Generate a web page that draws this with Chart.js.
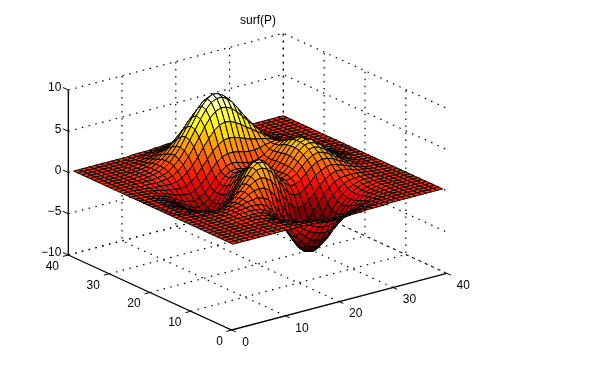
<!DOCTYPE html>
<html>
<head>
<meta charset="utf-8">
<title>surf(P)</title>
<script src="https://cdn.jsdelivr.net/npm/chart.js@4"></script>
<style>
html,body{margin:0;padding:0;background:#fff}
canvas{display:block}
</style>
</head>
<body>
<canvas id="surfChart" width="592" height="379"></canvas>
<script>
/* ============================= */
/* DATA */
/* ============================= */

const gridX = [1,2,3,4,5,6,7,8,9,10,11,12,13,14,15,16,17,18,19,20,21,22,23,24,25,26,27,28,29,30,31,32,33,34,35,36,37,38,39,40]
const gridY = [1,2,3,4,5,6,7,8,9,10,11,12,13,14,15,16,17,18,19,20,21,22,23,24,25,26,27,28,29,30,31,32,33,34,35,36,37,38,39,40]

// surface height, one row per gridY value, one column per gridX value
const zValues = [
[0,0,0,0,0,0,0,0,0,0,0,0,0,0,-.1,-.1,-.1,-.2,-.2,-.2,-.2,-.3,-.2,-.2,-.2,-.1,-.1,-.1,-.1,0,0,0,0,0,0,0,0,0,0,0],
[0,0,0,0,0,0,0,0,0,0,0,0,0,-.1,-.1,-.2,-.2,-.3,-.4,-.4,-.5,-.5,-.5,-.4,-.3,-.3,-.2,-.1,-.1,-.1,0,0,0,0,0,0,0,0,0,0],
[0,0,0,0,0,0,0,0,0,0,0,0,-.1,-.1,-.2,-.3,-.4,-.6,-.7,-.8,-.9,-.9,-.8,-.7,-.6,-.5,-.4,-.3,-.2,-.1,-.1,0,0,0,0,0,0,0,0,0],
[0,0,0,0,0,0,0,0,0,0,0,0,-.1,-.2,-.4,-.5,-.8,-1,-1.2,-1.3,-1.4,-1.4,-1.4,-1.2,-1,-.8,-.6,-.4,-.3,-.2,-.1,-.1,0,0,0,0,0,0,0,0],
[0,0,0,0,0,0,0,0,0,0,0,-.1,-.2,-.3,-.6,-.8,-1.2,-1.5,-1.8,-2.1,-2.2,-2.2,-2.1,-1.9,-1.6,-1.3,-1,-.7,-.5,-.3,-.2,-.1,-.1,0,0,0,0,0,0,0],
[0,0,0,0,0,0,0,0,0,0,0,-.1,-.2,-.5,-.8,-1.2,-1.7,-2.2,-2.7,-3,-3.2,-3.3,-3.1,-2.7,-2.3,-1.8,-1.4,-1,-.7,-.4,-.2,-.1,-.1,0,0,0,0,0,0,0],
[0,0,0,0,0,0,0,0,.1,.1,0,-.1,-.3,-.6,-1,-1.6,-2.2,-2.9,-3.5,-4.1,-4.3,-4.4,-4.2,-3.7,-3.1,-2.5,-1.9,-1.3,-.9,-.5,-.3,-.2,-.1,0,0,0,0,0,0,0],
[0,0,0,0,0,0,0,.1,.1,.1,.1,0,-.2,-.6,-1.1,-1.8,-2.6,-3.5,-4.3,-5,-5.4,-5.5,-5.2,-4.7,-3.9,-3.1,-2.3,-1.6,-1.1,-.7,-.4,-.2,-.1,0,0,0,0,0,0,0],
[0,0,0,0,0,0,.1,.1,.1,.1,.1,.1,-.1,-.5,-1,-1.8,-2.8,-3.8,-4.8,-5.6,-6.1,-6.3,-6,-5.4,-4.5,-3.6,-2.7,-1.8,-1.2,-.7,-.4,-.2,-.1,0,0,0,0,0,0,0],
[0,0,0,0,0,0,.1,.1,.2,.2,.3,.2,.1,-.2,-.7,-1.5,-2.5,-3.6,-4.7,-5.7,-6.3,-6.5,-6.3,-5.7,-4.8,-3.8,-2.8,-1.9,-1.2,-.7,-.3,-.1,0,0,0,0,0,0,0,0],
[0,0,0,0,0,0,.1,.1,.2,.3,.4,.5,.4,.3,-.1,-.8,-1.7,-2.8,-4,-5,-5.8,-6.2,-6,-5.5,-4.6,-3.6,-2.6,-1.7,-1,-.5,-.2,0,.1,.1,.1,0,0,0,0,0],
[0,0,0,0,0,0,0,.1,.2,.3,.5,.7,.8,.9,.7,.3,-.5,-1.5,-2.6,-3.7,-4.6,-5.1,-5.1,-4.7,-3.9,-3,-2,-1.2,-.6,-.1,.1,.2,.2,.2,.1,.1,0,0,0,0],
[0,0,0,0,0,0,0,0,.1,.3,.5,.8,1.2,1.5,1.6,1.5,1,.2,-.9,-2,-3,-3.6,-3.8,-3.5,-2.9,-2,-1.2,-.5,0,.3,.4,.4,.4,.3,.2,.1,.1,0,0,0],
[0,0,0,-.1,-.1,-.1,-.1,-.1,-.1,.1,.4,.8,1.3,1.9,2.3,2.5,2.3,1.8,.9,-.2,-1.2,-2,-2.3,-2.2,-1.7,-1,-.3,.3,.7,.9,.9,.8,.6,.4,.3,.2,.1,.1,0,0],
[0,0,0,-.1,-.1,-.2,-.3,-.3,-.3,-.2,.1,.6,1.2,1.9,2.6,3.2,3.3,3,2.3,1.3,.3,-.6,-1,-1,-.6,0,.7,1.1,1.4,1.5,1.3,1.1,.8,.6,.4,.2,.1,.1,0,0],
[0,0,-.1,-.1,-.2,-.3,-.4,-.6,-.7,-.6,-.4,.1,.7,1.6,2.5,3.3,3.7,3.6,3.1,2.2,1.2,.4,-.1,-.1,.3,.9,1.5,1.9,2.1,2,1.8,1.4,1.1,.7,.5,.3,.2,.1,0,0],
[0,-.1,-.1,-.2,-.3,-.4,-.6,-.9,-1,-1.1,-1,-.6,.1,1,2,3,3.6,3.7,3.3,2.5,1.5,.7,.3,.4,.8,1.5,2.1,2.5,2.7,2.5,2.2,1.7,1.3,.9,.6,.3,.2,.1,.1,0],
[0,-.1,-.1,-.2,-.3,-.6,-.8,-1.1,-1.4,-1.6,-1.6,-1.4,-.8,.2,1.3,2.3,3,3.3,3,2.3,1.4,.7,.4,.6,1.1,1.8,2.5,3,3.1,2.9,2.5,2,1.5,1,.7,.4,.2,.1,.1,0],
[0,-.1,-.1,-.2,-.4,-.7,-1,-1.4,-1.8,-2.1,-2.2,-2.1,-1.5,-.7,.4,1.5,2.3,2.7,2.5,1.9,1.2,.5,.3,.6,1.2,2,2.8,3.3,3.4,3.2,2.8,2.2,1.6,1.1,.7,.4,.2,.1,.1,0],
[0,-.1,-.1,-.3,-.4,-.7,-1.1,-1.5,-2,-2.4,-2.7,-2.6,-2.2,-1.4,-.3,.8,1.6,2.1,2,1.5,.8,.3,.2,.5,1.2,2.1,2.9,3.4,3.6,3.4,2.9,2.3,1.7,1.2,.7,.5,.3,.1,.1,0],
[0,-.1,-.1,-.3,-.5,-.7,-1.1,-1.6,-2.1,-2.6,-2.9,-3,-2.6,-1.9,-.9,.2,1,1.5,1.5,1.1,.5,.1,.1,.5,1.2,2.1,2.9,3.4,3.6,3.3,2.9,2.3,1.7,1.2,.7,.4,.3,.1,.1,0],
[0,-.1,-.1,-.3,-.4,-.7,-1.1,-1.6,-2.1,-2.6,-3,-3,-2.8,-2.1,-1.2,-.3,.6,1,1.1,.8,.3,0,0,.4,1.2,2,2.8,3.3,3.4,3.2,2.7,2.2,1.6,1.1,.7,.4,.2,.1,.1,0],
[0,-.1,-.1,-.2,-.4,-.7,-1,-1.5,-2,-2.4,-2.8,-2.9,-2.7,-2.2,-1.3,-.5,.3,.7,.8,.6,.2,0,0,.4,1.1,1.9,2.6,3,3.1,2.9,2.5,2,1.4,1,.6,.4,.2,.1,.1,0],
[0,-.1,-.1,-.2,-.4,-.6,-.9,-1.3,-1.7,-2.1,-2.5,-2.6,-2.4,-1.9,-1.2,-.4,.3,.7,.8,.7,.4,.2,.2,.5,1.1,1.8,2.3,2.7,2.7,2.5,2.2,1.7,1.3,.9,.6,.3,.2,.1,.1,0],
[0,-.1,-.1,-.2,-.3,-.5,-.7,-1.1,-1.4,-1.8,-2,-2.1,-1.9,-1.4,-.8,0,.6,1.1,1.3,1.2,1,.8,.8,1,1.3,1.8,2.2,2.4,2.4,2.2,1.9,1.5,1.1,.7,.5,.3,.2,.1,0,0],
[0,0,-.1,-.1,-.2,-.4,-.6,-.8,-1.1,-1.3,-1.4,-1.4,-1.2,-.7,0,.8,1.5,2,2.2,2.2,2.1,1.9,1.8,1.8,1.9,2.1,2.2,2.3,2.1,1.9,1.6,1.2,.9,.6,.4,.2,.1,.1,0,0],
[0,0,-.1,-.1,-.2,-.3,-.4,-.6,-.7,-.8,-.9,-.7,-.4,.2,1,1.8,2.6,3.2,3.6,3.7,3.6,3.4,3.1,2.9,2.7,2.6,2.4,2.2,2,1.7,1.3,1,.7,.5,.3,.2,.1,.1,0,0],
[0,0,0,-.1,-.1,-.2,-.3,-.3,-.4,-.4,-.3,0,.5,1.2,2,3,3.9,4.7,5.2,5.4,5.3,5,4.6,4.1,3.7,3.2,2.8,2.3,1.9,1.5,1.2,.8,.6,.4,.2,.1,.1,0,0,0],
[0,0,0,0,-.1,-.1,-.1,-.2,-.1,0,.2,.6,1.2,2,3,4,5.1,6,6.6,6.9,6.8,6.5,5.9,5.2,4.5,3.8,3.1,2.5,1.9,1.4,1,.7,.5,.3,.2,.1,.1,0,0,0],
[0,0,0,0,0,0,0,0,.1,.2,.5,1,1.6,2.5,3.6,4.7,5.8,6.8,7.5,7.8,7.8,7.4,6.8,5.9,5,4.1,3.3,2.5,1.9,1.3,.9,.6,.4,.2,.1,.1,0,0,0,0],
[0,0,0,0,0,0,0,.1,.2,.4,.7,1.2,1.9,2.7,3.8,4.9,6,7,7.7,8.1,8,7.6,7,6.1,5.1,4.1,3.2,2.4,1.7,1.2,.8,.5,.3,.2,.1,.1,0,0,0,0],
[0,0,0,0,0,0,.1,.1,.2,.4,.7,1.2,1.8,2.6,3.6,4.6,5.6,6.5,7.2,7.5,7.5,7.2,6.5,5.7,4.7,3.8,2.9,2.2,1.5,1,.7,.4,.3,.2,.1,.1,0,0,0,0],
[0,0,0,0,0,0,.1,.1,.2,.4,.7,1.1,1.6,2.3,3.1,4,4.9,5.6,6.2,6.5,6.5,6.2,5.6,4.9,4.1,3.2,2.5,1.8,1.3,.9,.5,.3,.2,.1,.1,0,0,0,0,0],
[0,0,0,0,0,0,.1,.1,.2,.3,.6,.9,1.3,1.9,2.5,3.2,3.9,4.5,4.9,5.1,5.1,4.9,4.5,3.9,3.2,2.6,1.9,1.4,1,.7,.4,.3,.2,.1,0,0,0,0,0,0],
[0,0,0,0,0,0,0,.1,.1,.3,.4,.7,1,1.4,1.8,2.4,2.8,3.3,3.6,3.8,3.8,3.6,3.3,2.9,2.4,1.9,1.4,1,.7,.5,.3,.2,.1,.1,0,0,0,0,0,0],
[0,0,0,0,0,0,0,.1,.1,.2,.3,.5,.7,1,1.3,1.6,2,2.3,2.5,2.6,2.6,2.5,2.3,2,1.6,1.3,1,.7,.5,.3,.2,.1,.1,0,0,0,0,0,0,0],
[0,0,0,0,0,0,0,0,.1,.1,.2,.3,.4,.6,.8,1,1.3,1.4,1.6,1.7,1.7,1.6,1.4,1.3,1,.8,.6,.4,.3,.2,.1,.1,0,0,0,0,0,0,0,0],
[0,0,0,0,0,0,0,0,0,.1,.1,.2,.3,.4,.5,.6,.8,.9,1,1,1,1,.9,.8,.6,.5,.4,.3,.2,.1,.1,0,0,0,0,0,0,0,0,0],
[0,0,0,0,0,0,0,0,0,0,.1,.1,.1,.2,.3,.3,.4,.5,.5,.6,.6,.5,.5,.4,.3,.3,.2,.1,.1,.1,0,0,0,0,0,0,0,0,0,0],
[0,0,0,0,0,0,0,0,0,0,0,.1,.1,.1,.1,.2,.2,.3,.3,.3,.3,.3,.3,.2,.2,.1,.1,.1,.1,0,0,0,0,0,0,0,0,0,0,0]
]

const xTicks = [0,10,20,30,40]
const yTicks = [0,10,20,30,40]
const zTicks = [-10,-5,0,5,10]
const zTickLabels = ["\u221210","\u22125","0","5","10"]
const titleText = "surf(P)"

/* ============================= */
/* VIEW */
/* ============================= */

// orthographic view, az -37.5 el 30, fitted to the axes box
function project(x,y,z){
return {
x:231.7 + x*5.375 - y*4.085,
y:330 - x*1.4175 - y*1.875 - (z+10)*8.25
}
}

// matlab hot colormap
function hot(z){
let c=(z+6.55)/14.65
c=Math.floor(Math.max(0,Math.min(0.9999,c))*64)/63
const r=Math.min(1,c/0.375)
const g=Math.max(0,Math.min(1,(c-0.375)/0.375))
const b=Math.max(0,Math.min(1,(c-0.75)/0.25))
return `rgb(${Math.round(r*255)},${Math.round(g*255)},${Math.round(b*255)})`
}

function line(points,color,width,dash){
return {
data:points,
showLine:true,
fill:false,
borderColor:color,
borderWidth:width,
borderDash:dash||[],
pointRadius:0,
tension:0,
clip:false
}
}

/* ============================= */
/* DATASETS */
/* ============================= */

const datasets=[]

// solid axes and ticks
datasets.push(line([project(0,40,-10),project(0,40,10)],"#000",1.3))
datasets.push(line([project(0,40,-10),project(0,0,-10),project(40,0,-10)],"#000",1.3))

zTicks.forEach(t=>{
datasets.push(line([project(0,40,t),project(0,41.3,t)],"#000",1))
})
yTicks.forEach(t=>{
datasets.push(line([project(0,t,-10),project(-1,t,-10)],"#000",1))
})
xTicks.forEach(t=>{
datasets.push(line([project(t,0,-10),project(t,-1,-10)],"#000",1))
})

// surface: first dataset is painted last, so go front to back
for(let r=0;r<gridY.length-1;r++){
for(let c=0;c<gridX.length-1;c++){
const z=zValues[r][c]
datasets.push({
data:[
project(gridX[c],gridY[r],z),
project(gridX[c+1],gridY[r],zValues[r][c+1]),
project(gridX[c+1],gridY[r+1],zValues[r+1][c+1]),
project(gridX[c],gridY[r+1],zValues[r+1][c]),
project(gridX[c],gridY[r],z)
],
showLine:true,
fill:"shape",
backgroundColor:hot(z),
borderColor:"#000",
borderWidth:1,
pointRadius:0,
tension:0,
clip:false
})
}
}

// dotted grid on the floor and the two back walls
const dots=[1.5,5.5]
xTicks.slice(1).forEach(t=>{
datasets.push(line([project(t,0,-10),project(t,40,-10),project(t,40,10)],"#000",1.2,dots))
})
yTicks.slice(1).forEach(t=>{
datasets.push(line([project(0,t,-10),project(40,t,-10),project(40,t,10)],"#000",1.2,dots))
})
zTicks.forEach(t=>{
datasets.push(line([project(0,40,t),project(40,40,t),project(40,0,t)],"#000",1.2,dots))
})

/* ============================= */
/* TEXT */
/* ============================= */

const textPlugin={
id:"axisText",
afterDraw(chart){
const ctx=chart.ctx
const sx=chart.scales.x
const sy=chart.scales.y
function put(p,dx,dy,str,align){
ctx.textAlign=align
ctx.fillText(str,sx.getPixelForValue(p.x)+dx,sy.getPixelForValue(p.y)+dy)
}
ctx.save()
ctx.fillStyle="#000"
ctx.font="12px 'Liberation Sans'"
ctx.textBaseline="middle"
zTicks.forEach((t,i)=>put(project(0,40,t),-7,-2,zTickLabels[i],"right"))
yTicks.forEach(t=>put(project(0,t,-10),t==0?-12:-16,11.5,String(t),"center"))
xTicks.forEach(t=>put(project(t,0,-10),t==0?14:16.5,12.5,String(t),"center"))
ctx.textAlign="center"
ctx.fillText(titleText,258,20.5)
ctx.restore()
}
}

/* ============================= */
/* CHART */
/* ============================= */

const surfChart = new Chart(
document.getElementById("surfChart"),
{
type:"scatter",
data:{datasets:datasets},
plugins:[textPlugin],
options:{
animation:false,
responsive:false,
layout:{padding:0},
plugins:{
legend:{display:false},
tooltip:{enabled:false},
title:{display:false}
},
scales:{
x:{type:"linear",display:false,min:0,max:592},
y:{type:"linear",display:false,min:0,max:379,reverse:true}
}
}
})
</script>
</body>
</html>
